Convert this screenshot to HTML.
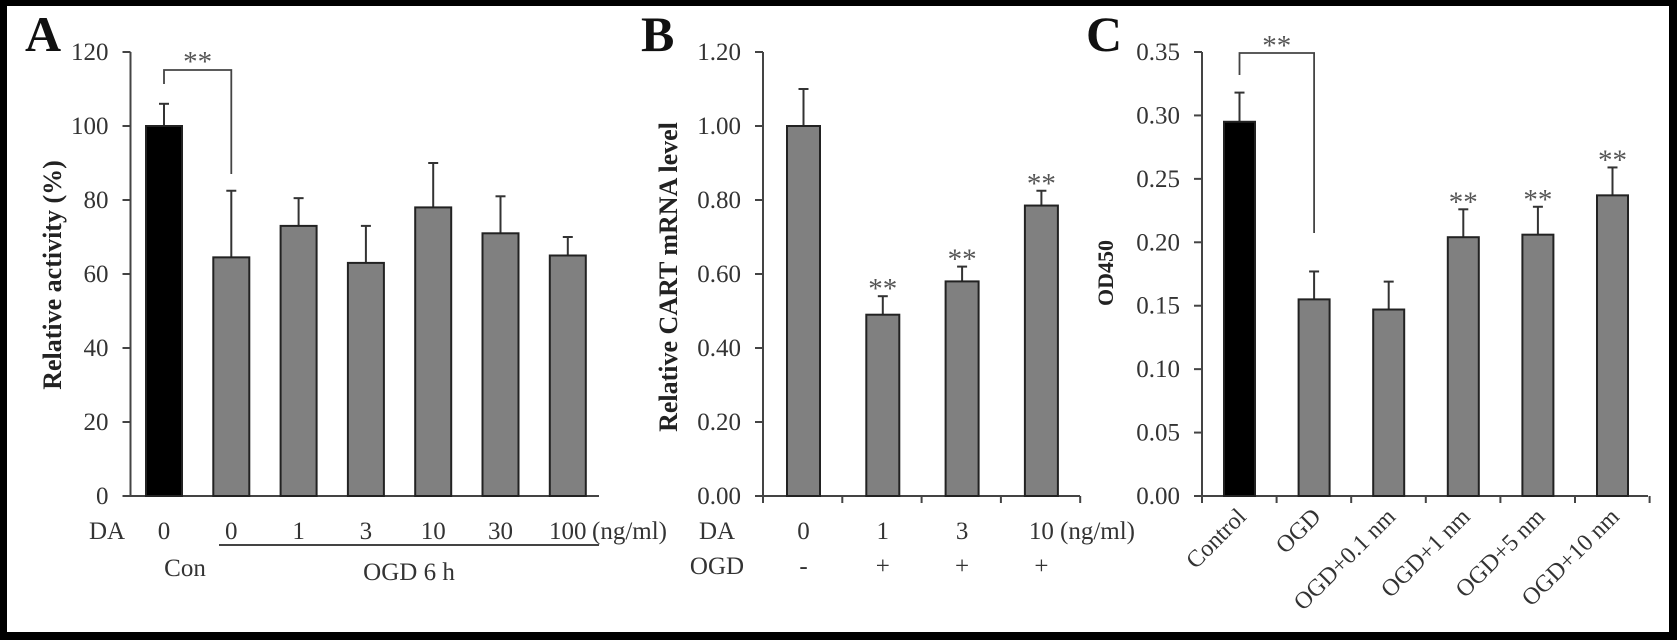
<!DOCTYPE html>
<html><head><meta charset="utf-8"><style>
html,body{margin:0;padding:0;background:#000;}
svg{display:block;font-family:"Liberation Serif",serif;}
</style></head><body>
<svg id="fig" width="1677" height="640" viewBox="0 0 1677 640">
<rect x="7" y="6" width="1662" height="626" fill="#fff"/>
<g id="root"></g>
</svg>
<script>
// Panel A data
const aCats = ["0","0","1","3","10","30","100"];
const aVals = [100, 64.5, 73, 63, 78, 71, 65];
const aErrs = [106, 82.5, 80.5, 73, 90, 81, 70];
const aTicks = ["0","20","40","60","80","100","120"];
// Panel B data
const bCats = ["0","1","3","10"];
const bOgd = ["-","+","+","+"];
const bVals = [1.00, 0.49, 0.58, 0.785];
const bErrs = [1.10, 0.54, 0.62, 0.825];
const bStars = [false, true, true, true];
const bTicks = ["0.00","0.20","0.40","0.60","0.80","1.00","1.20"];
// Panel C data
const cCats = ["Control","OGD","OGD+0.1 nm","OGD+1 nm","OGD+5 nm","OGD+10 nm"];
const cVals = [0.295, 0.155, 0.147, 0.204, 0.206, 0.237];
const cErrs = [0.318, 0.177, 0.169, 0.226, 0.228, 0.259];
const cStars = [false, false, false, true, true, true];
const cTicks = ["0.00","0.05","0.10","0.15","0.20","0.25","0.30","0.35"];

const NS = "http://www.w3.org/2000/svg";
const root = document.getElementById("root");
const FS = 25;
function el(tag, attrs, parent, text){
  const e = document.createElementNS(NS, tag);
  for (const k in attrs) e.setAttribute(k, attrs[k]);
  if (text !== undefined) e.textContent = text;
  (parent || root).appendChild(e);
  return e;
}
const Y0 = 496, Y1 = 52;
function makeY(max){ return v => Y0 - (v / max) * (Y0 - Y1); }

function panel(opt){
  const g = el("g", {});
  
  
  const y = makeY(opt.max);
  const x = i => opt.x0 + opt.first + i * opt.step;
  const ax = el("line", {x1:opt.x0, y1:Y1, x2:opt.x0, y2:Y0, stroke:"#444", "stroke-width":2}, g);
  
  
  opt.ticks.forEach(t => {
    const v = parseFloat(t), ty = y(v);
    const tl = el("line", {x1:opt.x0-8, y1:ty, x2:opt.x0, y2:ty, stroke:"#444", "stroke-width":2}, g);
    
    
    const tt = el("text", {x:opt.x0-22, y:ty+8, "text-anchor":"end", "font-size":FS, fill:"#333"}, g, t);
    
    
  });
  const xa = el("line", {x1:opt.x0-8, y1:Y0, x2:opt.xEnd, y2:Y0, stroke:"#444", "stroke-width":2}, g);
  
  
  if (opt.catTicks) {
    for (let i = 0; i <= opt.vals.length; i++) {
      const tx = opt.x0 + i * opt.step;
      const ct = el("line", {x1:tx, y1:Y0, x2:tx, y2:Y0+7, stroke:"#444", "stroke-width":2}, g);
      
      
    }
  }
  opt.vals.forEach((v, i) => {
    const cx = x(i), w = opt.bw;
    const ey = y(opt.errs[i]);
    const eb = el("line", {x1:cx, y1:y(v), x2:cx, y2:ey, stroke:"#333", "stroke-width":2}, g);
    
    
    const ec = el("line", {x1:cx-5, y1:ey, x2:cx+5, y2:ey, stroke:"#333", "stroke-width":2}, g);
    
    
    const b = el("rect", {x:cx-w/2, y:y(v), width:w, height:Y0-y(v),
      fill: (opt.black && i === 0) ? "#000" : "#808080", stroke:"#222", "stroke-width":2}, g);
    
    
    if (opt.stars && opt.stars[i]) {
      const s = el("text", {x:cx, y:ey+2, "text-anchor":"middle", "font-size":29, fill:"#555"}, g, "**");
      
      
    }
  });
  if (opt.bracket) {
    const lx = x(0), rx = x(1);
    const br = el("path", {d:`M${lx},${opt.bracket[1]} V${opt.bracket[0]} H${rx} V${opt.bracket[2]}`,
      fill:"none", stroke:"#444", "stroke-width":1.8}, g);
    
    
    const bs = el("text", {x:(lx+rx)/2, y:opt.bracket[0]+opt.starOff, "text-anchor":"middle", "font-size":29, fill:"#555"}, g, "**");
    
    
  }
  const yt = el("text", {transform:`translate(${opt.titleX},${opt.titleY}) rotate(-90)`, "text-anchor":"middle",
    "font-size":opt.titleSize, "font-weight":"bold", fill:"#222"}, g, opt.title);
  
  
  const pl = el("text", {x:opt.letterX, y:51, "font-size":50, "font-weight":"bold", fill:"#111"}, g, opt.letter);
  
  
  return {g, x};
}

// Panel A
const A = panel({name:"panel-a", x0:130.5, first:33.5, step:67.3, bw:36, xEnd:599, max:120,
  vals:aVals, errs:aErrs, ticks:aTicks, black:true, bracket:[70, 84, 174], starOff:1,
  title:"Relative  activity (%)", titleX:61, titleY:275, titleSize:26, letter:"A", letterX:25});
{
  const t = el("text", {x:107, y:539, "text-anchor":"middle", "font-size":FS, fill:"#333"}, A.g, "DA");
  
  
  aCats.forEach((c, i) => {
    const ct = el("text", {x:A.x(i), y:539, "text-anchor":"middle", "font-size":FS, fill:"#333"}, A.g, c);
    
    
  });
  const u = el("text", {x:592, y:539, "font-size":FS, fill:"#333"}, A.g, "(ng/ml)");
  
  
  const ln = el("line", {x1:219, y1:545, x2:599, y2:545, stroke:"#444", "stroke-width":2}, A.g);
  
  
  const con = el("text", {x:185, y:576, "text-anchor":"middle", "font-size":FS, fill:"#333"}, A.g, "Con");
  
  
  const og = el("text", {x:409, y:580, "text-anchor":"middle", "font-size":FS, fill:"#333", "xml:space":"preserve"}, A.g, "OGD  6 h");
  
  
}

// Panel B
const B = panel({name:"panel-b", x0:763, first:40.5, step:79.3, bw:33, xEnd:1080, max:1.2,
  vals:bVals, errs:bErrs, ticks:bTicks, stars:bStars, catTicks:true,
  title:"Relative CART mRNA level", titleX:677, titleY:277, titleSize:26, letter:"B", letterX:641});
{
  const d = el("text", {x:717, y:539, "text-anchor":"middle", "font-size":FS, fill:"#333"}, B.g, "DA");
  
  
  const o = el("text", {x:717, y:574, "text-anchor":"middle", "font-size":FS, fill:"#333"}, B.g, "OGD");
  
  
  bCats.forEach((c, i) => {
    const ct = el("text", {x:B.x(i), y:539, "text-anchor":"middle", "font-size":FS, fill:"#333"}, B.g, c);
    
    
    const ot = el("text", {x:B.x(i), y:574, "text-anchor":"middle", "font-size":FS, fill:"#333"}, B.g, bOgd[i]);
    
    
  });
  const u = el("text", {x:1060, y:539, "font-size":FS, fill:"#333"}, B.g, "(ng/ml)");
  
  
}

// Panel C
const C = panel({name:"panel-c", x0:1202, first:37.5, step:74.6, bw:31, xEnd:1648, max:0.35,
  vals:cVals, errs:cErrs, ticks:cTicks, stars:cStars, catTicks:true, black:true, bracket:[53, 75, 233], starOff:2,
  title:"OD450", titleX:1113, titleY:273, titleSize:22, letter:"C", letterX:1086});
cCats.forEach((c, i) => {
  const cx = C.x(i) + 8, cy = 518;
  const t = el("text", {transform:`translate(${cx},${cy}) rotate(-45)`, "text-anchor":"end", "font-size":24, fill:"#333"}, C.g, c);
  
  
});
</script>
</body></html>
